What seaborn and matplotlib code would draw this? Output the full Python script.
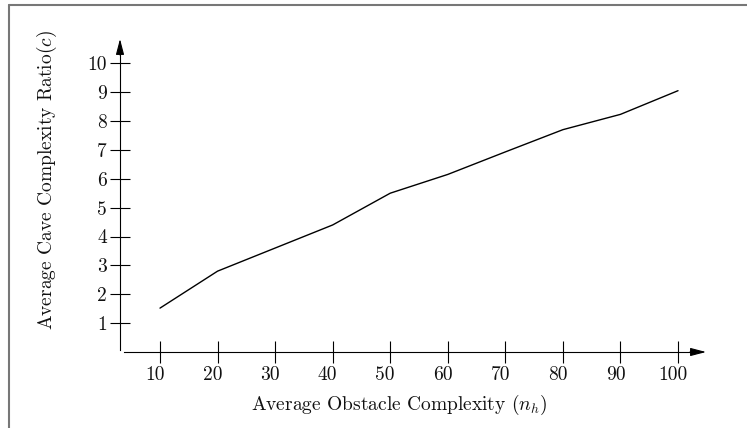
import numpy as np
import pandas as pd
import matplotlib
matplotlib.use("Agg")
import matplotlib.pyplot as plt
import seaborn as sns
from matplotlib.lines import Line2D
from matplotlib.transforms import ScaledTranslation

# data
obstacle_complexity = [10, 20, 30, 40, 50, 60, 70, 80, 90, 100]
cave_ratio = [1.52, 2.80, 3.60, 4.40, 5.50, 6.15, 6.93, 7.70, 8.23, 9.05]
y_ticks = [1, 2, 3, 4, 5, 6, 7, 8, 9, 10]

df = pd.DataFrame({"n_h": obstacle_complexity, "c": cave_ratio})

# Set style
sns.set_style("white")
plt.rcParams['font.family'] = 'serif'
plt.rcParams['font.serif'] = ['cmr10', 'DejaVu Serif']
plt.rcParams['mathtext.fontset'] = 'cm'
plt.rcParams['axes.formatter.use_mathtext'] = True

W, H = 747, 428
FS = 14
fig = plt.figure(figsize=(W / 100, H / 100), dpi=100)
ax = fig.add_axes([120 / W, 1 - 352 / H, 586 / W, 313 / H])

sns.lineplot(data=df, x="n_h", y="c", color="black", linewidth=1.0, ax=ax)

ax.set_xlim(3.05, 104.86)
ax.set_ylim(0, 10.84)

# axes look: only left/bottom lines with arrowheads
for side in ['top', 'right']:
    ax.spines[side].set_visible(False)
ax.spines['left'].set_bounds(0.06, 10.5)
ax.spines['bottom'].set_bounds(3.75, 104.0)
for side in ['left', 'bottom']:
    ax.spines[side].set_color('black')
    ax.spines[side].set_linewidth(0.8)

arrow = dict(arrowstyle='-|>,head_length=0.95,head_width=0.25', color='black',
             lw=0.8, shrinkA=0, shrinkB=0, mutation_scale=10)
ax.annotate('', xy=(1, 0), xycoords='axes fraction', xytext=(-16, 0),
            textcoords='offset pixels', arrowprops=arrow)
ax.annotate('', xy=(0, 1), xycoords='axes fraction', xytext=(0, -16),
            textcoords='offset pixels', arrowprops=arrow)

ax.tick_params(axis='both', direction='inout', color='black', width=0.8,
               labelsize=FS, labelcolor='#111111', pad=2,
               bottom=True, left=True)
ax.tick_params(axis='x', length=16)
ax.tick_params(axis='y', length=15)
ax.set_xticks(obstacle_complexity)
ax.set_xticklabels([str(v) for v in obstacle_complexity])
ax.set_yticks(y_ticks)
ax.set_yticklabels([str(v) for v in y_ticks])

# labels sit a little left of their ticks in the reference
for lab in ax.get_xticklabels():
    lab.set_transform(lab.get_transform() + ScaledTranslation(-0.05, 0, fig.dpi_scale_trans))

ax.set_xlabel(r'Average Obstacle Complexity ($n_h$)', fontsize=FS, color='#111111', va='center')
ax.set_ylabel(r'Average Cave Complexity Ratio$(c)$', fontsize=FS, color='#111111', va='center')
ax.xaxis.set_label_coords((399 - 120) / 586, -(405 - 352) / 313)
ax.yaxis.set_label_coords((47 - 120) / 586, (352 - 180) / 313)

# gray frame (top and left edges visible)
fig.add_artist(Line2D([8.5 / W, 8.5 / W], [0, 1 - 5 / H], transform=fig.transFigure,
                      color='#777777', lw=1.5))
fig.add_artist(Line2D([8.5 / W, 1], [1 - 5 / H, 1 - 5 / H], transform=fig.transFigure,
                      color='#777777', lw=1.5))

plt.savefig('out.png', dpi=100)
